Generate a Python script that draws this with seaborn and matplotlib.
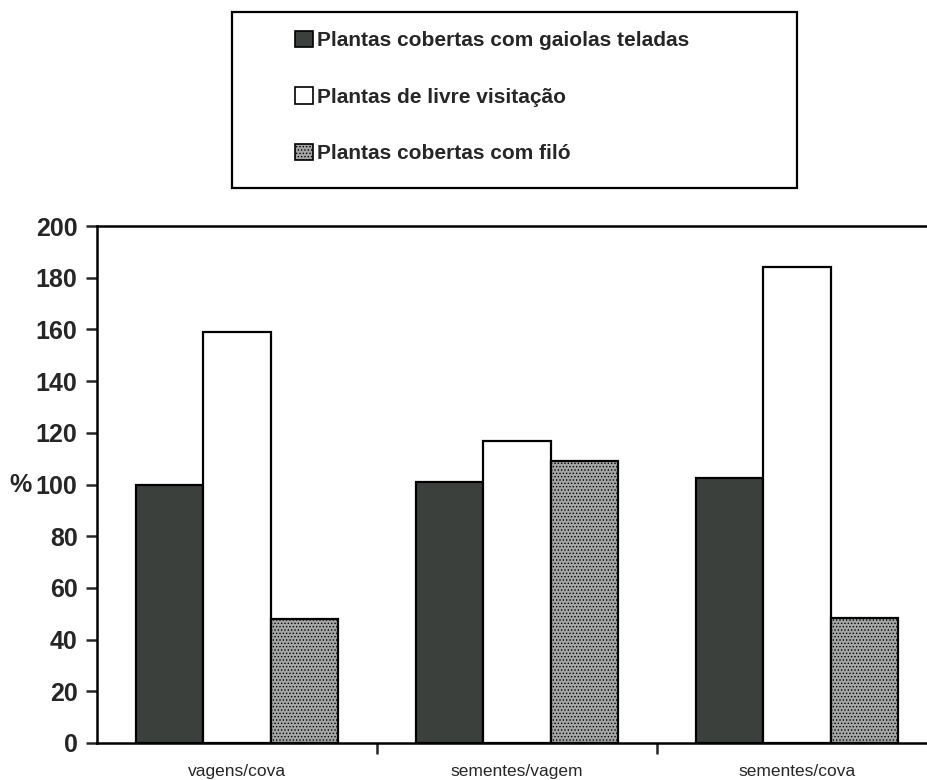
import pandas as pd
import seaborn as sns
import matplotlib.pyplot as plt
from matplotlib.patches import Patch, Rectangle

# chart values
categorias = ['vagens/cova', 'sementes/vagem', 'sementes/cova']
series = ['Plantas cobertas com gaiolas teladas',
          'Plantas de livre visitação',
          'Plantas cobertas com filó']
gaiolas = [100, 101, 102.5]
livre = [159, 117, 184]
filo = [48, 109, 48.5]
yticks = [0, 20, 40, 60, 80, 100, 120, 140, 160, 180, 200]

cores = ['#3b403d', '#ffffff', '#a3a6a4']

df = pd.DataFrame({
    'categoria': categorias * 3,
    'serie': [series[0]] * 3 + [series[1]] * 3 + [series[2]] * 3,
    'valor': gaiolas + livre + filo,
})

sns.set_style('white')
plt.rcParams['font.family'] = ['Liberation Sans', 'DejaVu Sans']
plt.rcParams['hatch.linewidth'] = 0.6

fig = plt.figure(figsize=(9.28, 7.8), dpi=100)
ax = fig.add_axes([97 / 928, 37 / 780, 840 / 928, 517 / 780])

sns.barplot(data=df, x='categoria', y='valor', hue='serie', order=categorias,
            hue_order=series, palette=cores, width=0.72, edgecolor='black',
            linewidth=1.6, saturation=1, legend=False, ax=ax)

# dotted screen texture on the third series
for p in ax.containers[2]:
    p.set_hatch('.....')

ax.set_xlim(-0.5, 2.5)
ax.set_ylim(0, 200)
ax.set_yticks(yticks)
ax.set_yticklabels([str(t) for t in yticks], fontsize=18, fontweight='bold')
ax.tick_params(axis='y', direction='out', length=8, width=1.8, left=True, pad=6)

# ticks between groups, labels at group centres
ax.set_xticks([0.5, 1.5])
ax.set_xticklabels([])
ax.set_xticks([0, 1, 2], minor=True)
ax.set_xticklabels(categorias, minor=True, fontsize=12.5)
ax.tick_params(axis='x', which='major', direction='out', length=8, width=1.8, bottom=True)
ax.tick_params(axis='x', which='minor', length=0, pad=15)

ax.set_xlabel('')
ax.set_ylabel('%', rotation=0, fontsize=18, fontweight='bold', ha='right', va='center')
ax.yaxis.set_label_coords(-0.078, 0.5)

for s in ['left', 'bottom', 'top']:
    ax.spines[s].set_linewidth(1.8)
    ax.spines[s].set_color('black')
ax.spines['right'].set_visible(False)

# legend inside a drawn box above the plot
handles = [Patch(facecolor=cores[0], edgecolor='black', linewidth=1.2),
           Patch(facecolor=cores[1], edgecolor='black', linewidth=1.2),
           Patch(facecolor=cores[2], edgecolor='black', linewidth=1.2, hatch='.....')]
fig.legend(handles, series, loc='center left', bbox_to_anchor=(285 / 928, 1 - 97 / 780),
           frameon=False, borderpad=0, handlelength=0.85, handleheight=0.85,
           handletextpad=0.2, labelspacing=1.78,
           prop={'family': 'Liberation Sans', 'weight': 'bold', 'size': 15})
fig.patches.append(Rectangle((232 / 928, 1 - 188 / 780), 565 / 928, 176 / 780,
                             transform=fig.transFigure, fill=False,
                             edgecolor='black', linewidth=1.6))

fig.savefig('out.png', dpi=100)
